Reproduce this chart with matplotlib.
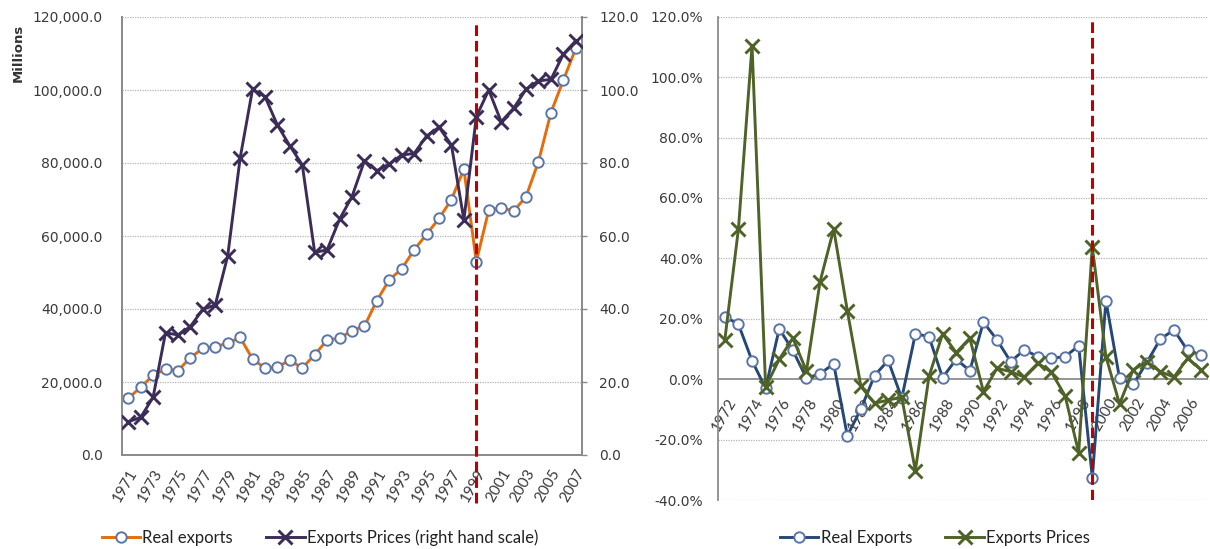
import matplotlib
matplotlib.use("Agg")
import matplotlib.pyplot as plt
import matplotlib.transforms as mtransforms
from matplotlib.lines import Line2D
import numpy as np

# ---------------- data ----------------
years_left = list(range(1971, 2008))
real_exports = [15500, 18600, 21800, 23500, 23100, 26700, 29200, 29700, 30600, 32200,
                26300, 23800, 24100, 26000, 23800, 27500, 31500, 32000, 34100, 35300,
                42300, 48000, 51000, 56200, 60500, 64800, 70000, 78300, 53000, 67100,
                67800, 66800, 70800, 80400, 93800, 102700, 111400]
export_prices = [9.1, 10.3, 15.8, 33.5, 32.9, 35.2, 39.9, 41.1, 54.5, 81.3,
                 100.2, 98.2, 90.4, 84.7, 79.5, 55.5, 56.2, 64.6, 70.8, 80.6,
                 77.9, 79.7, 82.2, 82.6, 87.4, 89.8, 84.9, 64.4, 92.7, 100.0,
                 91.3, 95.0, 100.2, 102.5, 102.9, 109.8, 113.5]

years_right = list(range(1972, 2008))
real_growth = [20.7, 18.2, 6.1, -3.0, 16.7, 9.5, 0.3, 1.8, 5.1, -18.7,
               -9.9, 1.2, 6.2, -6.3, 15.0, 14.1, 0.5, 6.6, 2.8, 18.9,
               13.0, 5.8, 9.7, 7.5, 6.9, 7.5, 11.0, -32.6, 26.0, 0.3,
               -1.7, 5.5, 13.3, 16.3, 9.5, 8.0]
price_growth = [13.0, 49.7, 110.4, -2.6, 6.6, 13.6, 2.7, 32.3, 49.7, 22.7,
                -2.4, -8.0, -6.9, -6.0, -30.3, 0.9, 15.0, 8.8, 13.6, -4.1,
                3.6, 2.5, 0.7, 5.3, 2.3, -5.5, -24.3, 43.9, 7.5, -8.2,
                3.1, 5.8, 2.5, 0.7, 6.9, 3.1]

break_year = 1999
left_yticks = [0, 20000, 40000, 60000, 80000, 100000, 120000]
right_yticks = [0, 20, 40, 60, 80, 100, 120]
pct_yticks = [-40, -20, 0, 20, 40, 60, 80, 100, 120]

# ---------------- style ----------------
ORANGE = "#e46c0a"
CIRC_EDGE = "#5b76a6"
PURPLE = "#3b2d57"
BLUE = "#254876"
GREEN = "#4f6228"
RED = "#c00000"
AXC = "#8c8c8c"
GRIDC = "#b4b4b4"
TXT = "#3a3a3a"

W, H = 1210, 549
fig = plt.figure(figsize=(W / 100, H / 100), dpi=100)

def box(l, r, t, b):
    return [l / W, 1 - b / H, (r - l) / W, (b - t) / H]

tickfont = dict(family="DejaVu Sans", size=10, color=TXT)
xfont = dict(family=["Lato", "DejaVu Sans"], size=11, color=TXT)
legfont = {"family": ["Lato", "DejaVu Sans"], "size": 12}

# ================= LEFT CHART =================
ax = fig.add_axes(box(122, 582, 17, 455))
ax2 = ax.twinx()
xl = np.arange(len(years_left))

ax.set_xlim(-0.5, len(years_left) - 0.5)
ax.set_ylim(0, 120000)
ax2.set_ylim(0, 120)

for y in left_yticks[1:]:
    ax.axhline(y, color=GRIDC, lw=0.9, ls=(0, (1, 1)), zorder=0.5)

ax.plot(xl, real_exports, color=ORANGE, lw=2.1, marker="o", ms=7.5,
        mfc="white", mec=CIRC_EDGE, mew=1.4, zorder=3)
ax2.plot(xl, export_prices, color=PURPLE, lw=2.1, marker="x", ms=9.5,
         mew=2.1, zorder=3)

bi = years_left.index(break_year)
ax2.plot([bi, bi], [-13.2, 119.2], color=RED, lw=2.2, ls=(0, (3.5, 1.6)),
         zorder=5, clip_on=False)

ax.set_yticks(left_yticks)
ax.set_yticklabels([f"{v:,.1f}" for v in left_yticks], **tickfont)
ax2.set_yticks(right_yticks)
ax2.set_yticklabels([f"{v:.1f}" for v in right_yticks], **tickfont)
ax.tick_params(axis="y", length=0, pad=14)
ax2.tick_params(axis="y", length=3.5, width=1, color=AXC, pad=9)

ax.set_xticks(xl[::2])
ax.set_xticklabels([str(y) for y in years_left[::2]], rotation=60,
                   ha="right", va="center", rotation_mode="anchor", **xfont)
ax.tick_params(axis="x", length=0, pad=11)
off = mtransforms.ScaledTranslation(6 / 100, 0, fig.dpi_scale_trans)
for lab in ax.get_xticklabels():
    lab.set_transform(lab.get_transform() + off)

for a in (ax, ax2):
    a.spines["top"].set_visible(False)
    for s in ("left", "right", "bottom"):
        a.spines[s].set_color(AXC)
        a.spines[s].set_linewidth(1.3)

fig.text(18 / W, 1 - 53 / H, "Millions", rotation=90, ha="center", va="center",
         fontsize=9.5, fontweight="bold", color="#333333", family="DejaVu Sans")

h1 = Line2D([], [], color=ORANGE, lw=2.1, marker="o", ms=7.5, mfc="white",
            mec=CIRC_EDGE, mew=1.4)
h2 = Line2D([], [], color=PURPLE, lw=2.1, marker="x", ms=9.5, mew=2.1)
fig.legend([h1, h2], ["Real exports", "Exports Prices (right hand scale)"],
           loc="center", bbox_to_anchor=(320 / W, 1 - 538 / H), ncol=2,
           frameon=False, prop=legfont, handlelength=2.3, columnspacing=2.0,
           handletextpad=0.15, labelcolor="#222222")

# ================= RIGHT CHART =================
bx = fig.add_axes(box(718, 1208, 16.7, 500))
xr = np.arange(len(years_right))
bx.set_xlim(-0.5, len(years_right) - 0.5)
bx.set_ylim(-40, 120)

for y in pct_yticks:
    if y != 0:
        bx.axhline(y, color=GRIDC, lw=0.9, ls=(0, (1, 1)), zorder=0.5)
bx.axhline(0, color=AXC, lw=1.3, zorder=1)

bx.plot(xr, real_growth, color=BLUE, lw=2.1, marker="o", ms=7.5, mfc="white",
        mec=CIRC_EDGE, mew=1.4, zorder=3)
bx.plot(xr, price_growth, color=GREEN, lw=2.1, marker="x", ms=9.5, mew=2.1,
        zorder=4)

ri = years_right.index(break_year)
bx.plot([ri, ri], [-40, 119], color=RED, lw=2.2, ls=(0, (3.5, 1.6)), zorder=5)

bx.set_yticks(pct_yticks)
bx.set_yticklabels([f"{v:.1f}%" for v in pct_yticks], **tickfont)
bx.tick_params(axis="y", length=0, pad=11)

for s in ("top", "right", "bottom"):
    bx.spines[s].set_visible(False)
bx.spines["left"].set_color(AXC)
bx.spines["left"].set_linewidth(1.3)

bx.set_xticks([])
for i in range(0, len(years_right), 2):
    bx.annotate(str(years_right[i]), xy=(xr[i], 0), xycoords="data",
                xytext=(8, -20), textcoords="offset pixels",
                rotation=60, ha="right", va="center",
                rotation_mode="anchor", zorder=2, **xfont)

h3 = Line2D([], [], color=BLUE, lw=2.1, marker="o", ms=7.5, mfc="white",
            mec=CIRC_EDGE, mew=1.4)
h4 = Line2D([], [], color=GREEN, lw=2.1, marker="x", ms=9.5, mew=2.1)
fig.legend([h3, h4], ["Real Exports", "Exports Prices"],
           loc="center", bbox_to_anchor=(935 / W, 1 - 538 / H), ncol=2,
           frameon=False, prop=legfont, handlelength=2.3, columnspacing=2.0,
           handletextpad=0.15, labelcolor="#222222")

fig.savefig("out.png", dpi=100)
